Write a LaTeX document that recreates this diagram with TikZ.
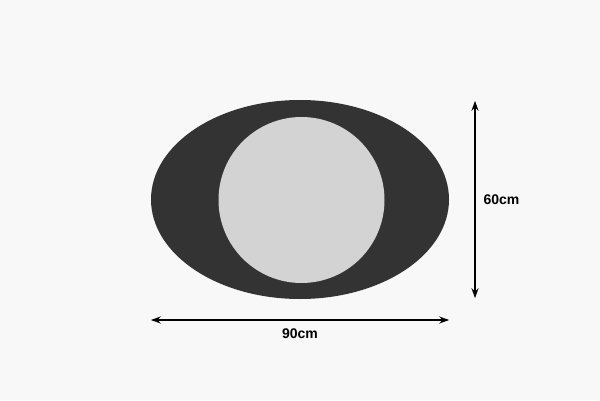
\documentclass[tikz,border=0pt]{standalone}
\usepackage{fontspec}
\setmainfont{Liberation Sans}
\usepackage{tikz}
\usetikzlibrary{positioning}
\usetikzlibrary{calc}
\usetikzlibrary{shapes.geometric}
\usetikzlibrary{arrows.meta}
\definecolor{framegray}{RGB}{51,51,51}
\definecolor{glassgray}{RGB}{211,211,211}
\definecolor{paper}{RGB}{248,248,248}
\tikzstyle{frame} = [ellipse, fill=framegray, minimum width=298pt, minimum height=199pt, inner sep=0pt]
\tikzstyle{mirror} = [circle, fill=glassgray, minimum size=166pt, inner sep=0pt]
\tikzstyle{coord} = [coordinate]
\tikzstyle{dim} = [line width=2pt, {Stealth[length=10pt,width=7pt]}-{Stealth[length=10pt,width=7pt]}]
\tikzstyle{dimtext} = [font=\bfseries\fontsize{14}{16}\selectfont, inner sep=0pt]

\begin{document}
\begin{tikzpicture}[x=1pt,y=1pt]
    \fill [paper] (0,0) rectangle (600,400);
    \useasboundingbox (0,0) rectangle (600,400);

    \node [frame] (frame) at (300,200.5) {};
    \node [mirror] (mirror) at (301.5,200) {};

    \node [coord] (vtop) at ($(frame.north)+(175,-1)$) {}; % height
    \node [coord] (vbot) at ($(frame.south)+(175,1)$) {};
    \draw [dim] (vtop) -- node[dimtext, right=7.5pt, name=vlen] {60cm} (vbot);

    \node [coord] (hleft) at ($(frame.west)+(0,-120.5)$) {}; % width
    \node [coord] (hright) at ($(frame.east)+(0,-120.5)$) {};
    \draw [dim] (hleft) -- node[dimtext, below=8pt, name=hlen] {90cm} (hright);

\end{tikzpicture}
\end{document}
